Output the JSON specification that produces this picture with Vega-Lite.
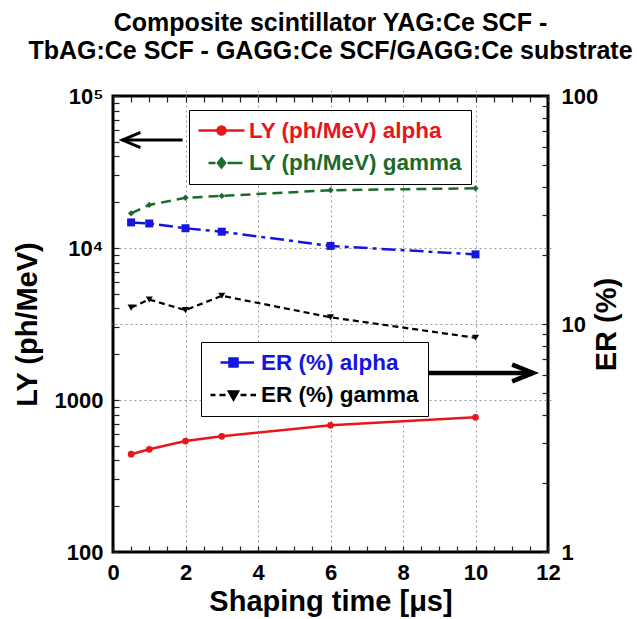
{
  "$schema": "https://vega.github.io/schema/vega-lite/v6.json",
  "autosize": {"type": "none"},
  "width": 435,
  "height": 456,
  "padding": {"left": 113, "top": 96, "right": 89, "bottom": 67},
  "background": "white",
  "config": {
    "font": "Liberation Sans",
    "view": {"stroke": "black", "strokeWidth": 3},
    "axis": {
      "labelFont": "Liberation Sans", "labelFontWeight": "bold", "labelFontSize": 22, "labelColor": "black",
      "titleFont": "Liberation Sans", "titleFontWeight": "bold", "titleFontSize": 29, "titleColor": "black",
      "domain": false, "tickColor": "#222", "tickWidth": 1.2, "tickSize": 6, "offset": -6,
      "gridColor": "#999", "gridDash": [2, 3], "gridWidth": 1,
      "labelOverlap": false, "labelFlush": false
    },
    "legend": {
      "orient": "none", "title": null, "strokeColor": "black", "fillColor": "white",
      "padding": 9, "symbolSize": 400, "symbolOffset": 12, "labelOffset": 16, "rowPadding": 9.5, "labelLimit": 400,
      "labelFont": "Liberation Sans", "labelFontWeight": "bold", "labelFontSize": 22.5, "symbolStrokeWidth": 2.5
    }
  },
  "title": {
    "text": ["Composite scintillator YAG:Ce SCF -", "TbAG:Ce SCF - GAGG:Ce SCF/GAGG:Ce substrate"],
    "font": "Liberation Sans", "fontSize": 25, "fontWeight": "bold", "color": "black",
    "anchor": "middle", "frame": "group", "offset": 21, "lineHeight": 28
  },
  "datasets": {
    "ly": [
      {"t": 0.5, "LY": 440, "series": "LY (ph/MeV) alpha"},
      {"t": 1, "LY": 474, "series": "LY (ph/MeV) alpha"},
      {"t": 2, "LY": 537, "series": "LY (ph/MeV) alpha"},
      {"t": 3, "LY": 577, "series": "LY (ph/MeV) alpha"},
      {"t": 6, "LY": 682, "series": "LY (ph/MeV) alpha"},
      {"t": 10, "LY": 769, "series": "LY (ph/MeV) alpha"},
      {"t": 0.5, "LY": 16900, "series": "LY (ph/MeV) gamma"},
      {"t": 1, "LY": 19200, "series": "LY (ph/MeV) gamma"},
      {"t": 2, "LY": 21400, "series": "LY (ph/MeV) gamma"},
      {"t": 3, "LY": 22000, "series": "LY (ph/MeV) gamma"},
      {"t": 6, "LY": 24000, "series": "LY (ph/MeV) gamma"},
      {"t": 10, "LY": 24700, "series": "LY (ph/MeV) gamma"}
    ],
    "er": [
      {"t": 0.5, "ER": 27.9, "series": "ER (%) alpha"},
      {"t": 1, "ER": 27.6, "series": "ER (%) alpha"},
      {"t": 2, "ER": 26.3, "series": "ER (%) alpha"},
      {"t": 3, "ER": 25.4, "series": "ER (%) alpha"},
      {"t": 6, "ER": 22.0, "series": "ER (%) alpha"},
      {"t": 10, "ER": 20.2, "series": "ER (%) alpha"},
      {"t": 0.5, "ER": 11.8, "series": "ER (%) gamma"},
      {"t": 1, "ER": 12.8, "series": "ER (%) gamma"},
      {"t": 2, "ER": 11.5, "series": "ER (%) gamma"},
      {"t": 3, "ER": 13.3, "series": "ER (%) gamma"},
      {"t": 6, "ER": 10.7, "series": "ER (%) gamma"},
      {"t": 10, "ER": 8.7, "series": "ER (%) gamma"}
    ],
    "arrowL": [{"t": 0.26, "t2": 1.92, "LY": 51300}],
    "arrowR": [{"t": 11.59, "t2": 8.55, "ER": 6.1}]
  },
  "layer": [
    {
      "data": {"name": "ly"},
      "encoding": {
        "x": {
          "field": "t", "type": "quantitative",
          "scale": {"domain": [0, 12], "nice": false, "zero": false},
          "axis": {
            "orient": "bottom", "title": "Shaping time [μs]",
            "values": [0, 0.5, 1, 1.5, 2, 2.5, 3, 3.5, 4, 4.5, 5, 5.5, 6, 6.5, 7, 7.5, 8, 8.5, 9, 9.5, 10, 10.5, 11, 11.5, 12],
            "labelExpr": "datum.value % 2 == 0 ? datum.value + '' : ''",
            "grid": true,
            "gridOpacity": {"condition": {"test": "datum.value % 2 == 0 && datum.value > 0 && datum.value < 12", "value": 1}, "value": 0},
            "labelPadding": 10, "titlePadding": 4
          }
        },
        "y": {
          "field": "LY", "type": "quantitative",
          "scale": {"type": "log", "domain": [100, 100000], "nice": false},
          "axis": {
            "orient": "left", "title": "LY (ph/MeV)",
            "values": [100, 200, 300, 400, 500, 600, 700, 800, 900, 1000, 2000, 3000, 4000, 5000, 6000, 7000, 8000, 9000, 10000, 20000, 30000, 40000, 50000, 60000, 70000, 80000, 90000, 100000],
            "labelExpr": "datum.value == 100000 ? '10⁵' : datum.value == 10000 ? '10⁴' : datum.value == 1000 ? '1000' : datum.value == 100 ? '100' : ''",
            "grid": true,
            "gridOpacity": {"condition": {"test": "datum.value == 1000 || datum.value == 10000", "value": 1}, "value": 0},
            "labelPadding": 10, "titlePadding": 12
          }
        },
        "color": {
          "field": "series", "type": "nominal",
          "scale": {"domain": ["LY (ph/MeV) alpha", "LY (ph/MeV) gamma"], "range": ["#e8161b", "#1c6b2a"]},
          "legend": {
            "legendX": 76, "legendY": 14,
            "labelExpr": "datum.label + '\u00a0\u00a0\u00a0\u00a0\u00a0'",
            "encode": {
              "symbols": {"update": {
                "shape": {"signal": "datum.value === 'LY (ph/MeV) alpha' ? 'M-2.3,0H2.3M0.4,0A0.4,0.4,0,1,1,-0.4,0A0.4,0.4,0,1,1,0.4,0Z' : 'M-1.3,0H-0.6M-0.35,0H0.35M0.6,0H2.1M0,-0.45L0.35,0L0,0.45L-0.35,0Z'"},
                "fill": {"signal": "datum.value === 'LY (ph/MeV) alpha' ? '#e8161b' : '#1c6b2a'"},
                "stroke": {"signal": "datum.value === 'LY (ph/MeV) alpha' ? '#e8161b' : '#1c6b2a'"},
                "strokeWidth": {"value": 2.5},
                "strokeDash": {"value": []},
                "opacity": {"value": 1}
              }},
              "labels": {"update": {
                "fill": {"signal": "datum.value === 'LY (ph/MeV) alpha' ? '#e8161b' : '#1c6b2a'"}
              }}
            }
          }
        }
      },
      "layer": [
        {
          "transform": [{"filter": "datum.series === 'LY (ph/MeV) alpha'"}],
          "mark": {"type": "line", "strokeWidth": 2.5}
        },
        {
          "transform": [{"filter": "datum.series === 'LY (ph/MeV) gamma'"}],
          "mark": {"type": "line", "strokeWidth": 2.5, "strokeDash": [10, 6]}
        },
        {
          "transform": [{"filter": "datum.series === 'LY (ph/MeV) alpha'"}],
          "mark": {"type": "point", "shape": "circle", "filled": true, "opacity": 1, "size": 45}
        },
        {
          "transform": [{"filter": "datum.series === 'LY (ph/MeV) gamma'"}],
          "mark": {"type": "point", "shape": "diamond", "filled": true, "opacity": 1, "size": 40}
        },
        {
          "data": {"name": "arrowL"},
          "mark": {"type": "rule", "strokeWidth": 3},
          "encoding": {"x2": {"field": "t2"}, "color": {"value": "black"}}
        },
        {
          "data": {"name": "arrowL"},
          "mark": {"type": "point", "shape": "M2,-0.85L0,0L2,0.85", "size": 324, "filled": false, "strokeWidth": 3, "opacity": 1},
          "encoding": {"color": {"value": "black"}}
        }
      ]
    },
    {
      "data": {"name": "er"},
      "encoding": {
        "x": {
          "field": "t", "type": "quantitative",
          "scale": {"domain": [0, 12], "nice": false, "zero": false},
          "axis": {
            "orient": "top", "title": null, "labels": false, "grid": false,
            "values": [0, 0.5, 1, 1.5, 2, 2.5, 3, 3.5, 4, 4.5, 5, 5.5, 6, 6.5, 7, 7.5, 8, 8.5, 9, 9.5, 10, 10.5, 11, 11.5, 12]
          }
        },
        "y": {
          "field": "ER", "type": "quantitative",
          "scale": {"type": "log", "domain": [1, 100], "nice": false},
          "axis": {
            "orient": "right", "title": "ER (%)", "titleAngle": 270, "titleBaseline": "top",
            "values": [1, 2, 3, 4, 5, 6, 7, 8, 9, 10, 20, 30, 40, 50, 60, 70, 80, 90, 100],
            "labelExpr": "datum.value == 1 || datum.value == 10 || datum.value == 100 ? datum.value + '' : ''",
            "grid": true,
            "gridOpacity": {"condition": {"test": "datum.value == 10", "value": 1}, "value": 0},
            "labelPadding": 13, "titlePadding": -5
          }
        },
        "color": {
          "field": "series", "type": "nominal",
          "scale": {"domain": ["ER (%) alpha", "ER (%) gamma"], "range": ["#1515e0", "#000000"]},
          "legend": {
            "legendX": 88, "legendY": 246,
            "encode": {
              "symbols": {"update": {
                "shape": {"signal": "datum.value === 'ER (%) alpha' ? 'M-1.3,0H2.05M-0.4,-0.4H0.4V0.4H-0.4Z' : 'M-2.3,0H-1.8M-1.4,0H-0.8M0.7,0H1.3M1.7,0H2.25M-0.45,-0.35L0.45,-0.35L0,0.45Z'"},
                "fill": {"signal": "datum.value === 'ER (%) alpha' ? '#1515e0' : '#000000'"},
                "stroke": {"signal": "datum.value === 'ER (%) alpha' ? '#1515e0' : '#000000'"},
                "strokeWidth": {"value": 2.5},
                "strokeDash": {"value": []},
                "opacity": {"value": 1}
              }},
              "labels": {"update": {
                "fill": {"signal": "datum.value === 'ER (%) alpha' ? '#1515e0' : '#000000'"}
              }}
            }
          }
        }
      },
      "layer": [
        {
          "transform": [{"filter": "datum.series === 'ER (%) alpha'"}],
          "mark": {"type": "line", "strokeWidth": 2.5, "strokeDash": [14, 5, 4, 5]}
        },
        {
          "transform": [{"filter": "datum.series === 'ER (%) gamma'"}],
          "mark": {"type": "line", "strokeWidth": 2.2, "strokeDash": [6, 4]}
        },
        {
          "transform": [{"filter": "datum.series === 'ER (%) alpha'"}],
          "mark": {"type": "point", "shape": "square", "filled": true, "opacity": 1, "size": 64}
        },
        {
          "transform": [{"filter": "datum.series === 'ER (%) gamma'"}],
          "mark": {"type": "point", "shape": "triangle-down", "filled": true, "opacity": 1, "size": 50}
        },
        {
          "data": {"name": "arrowR"},
          "mark": {"type": "rule", "strokeWidth": 4.5},
          "encoding": {"x2": {"field": "t2"}, "color": {"value": "black"}}
        },
        {
          "data": {"name": "arrowR"},
          "mark": {"type": "point", "shape": "M-2,-0.8L0,0L-2,0.8", "size": 441, "filled": false, "strokeWidth": 4.5, "opacity": 1},
          "encoding": {"color": {"value": "black"}}
        }
      ]
    }
  ],
  "resolve": {"scale": {"x": "independent", "y": "independent", "color": "independent"}}
}
